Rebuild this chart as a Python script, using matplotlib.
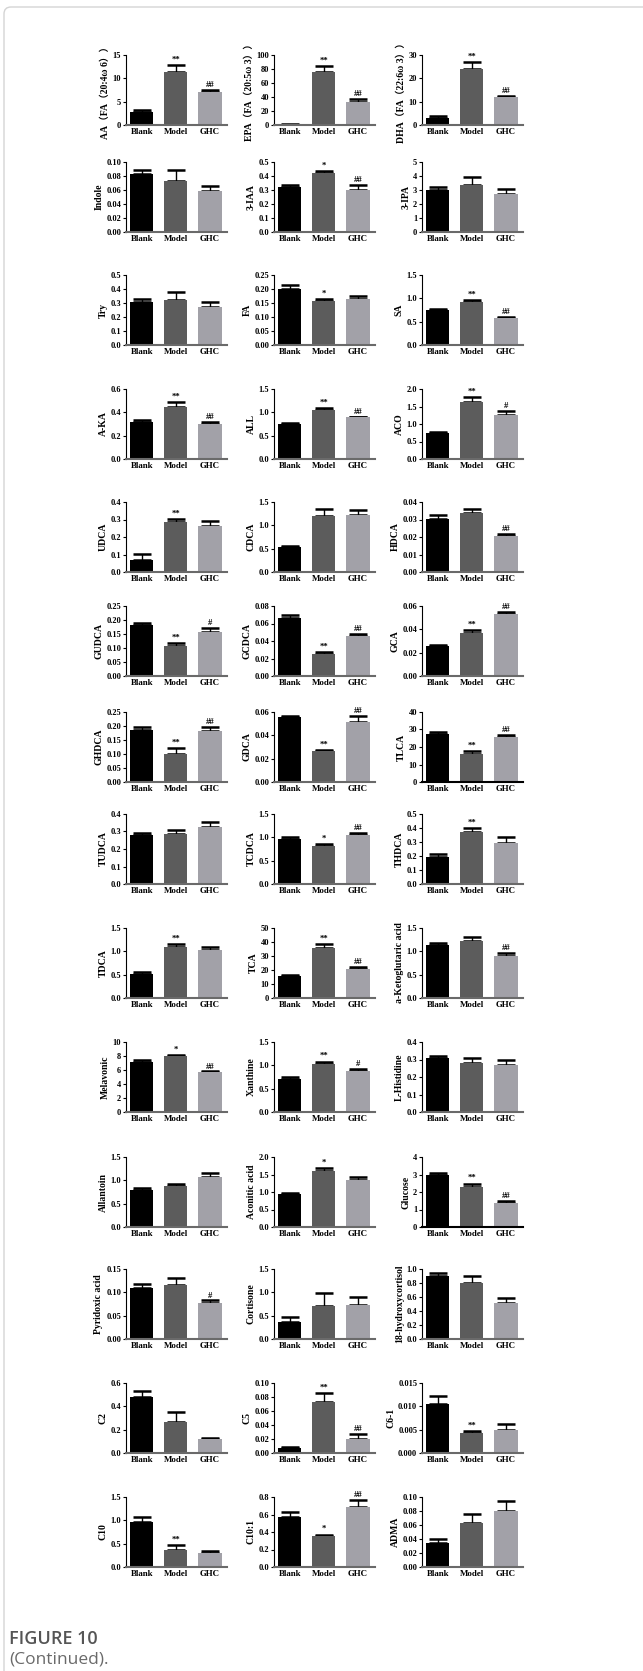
import math
import numpy as np
import matplotlib
matplotlib.use("Agg")
import matplotlib.pyplot as plt
from matplotlib.patches import FancyBboxPatch

plt.rcParams['font.family'] = ['Liberation Serif', 'Noto Sans CJK SC']
plt.rcParams['font.weight'] = 'bold'

groups = ["Blank", "Model", "GHC"]

labels = [
    "AA（FA（20:4ω 6））", "EPA（FA（20:5ω 3））", "DHA（FA（22:6ω 3））",
    "Indole", "3-IAA", "3-IPA",
    "Try", "FA", "SA",
    "A-KA", "ALL", "ACO",
    "UDCA", "CDCA", "HDCA",
    "GUDCA", "GCDCA", "GCA",
    "GHDCA", "GDCA", "TLCA",
    "TUDCA", "TCDCA", "THDCA",
    "TDCA", "TCA", "a-Ketoglutaric acid",
    "Melavonic", "Xanthine", "L-Histidine",
    "Allantoin", "Aconitic acid", "Glucose",
    "Pyridoxic acid", "Cortisone", "18-hydroxycortisol",
    "C2", "C5", "C6-1",
    "C10", "C10:1", "ADMA",
]

blank_mean = [2.8, 0.5, 3.2, 0.0835, 0.325, 3.03, 0.304, 0.2, 0.75, 0.314, 0.76, 0.74,
              0.066, 0.53, 0.0305, 0.182, 0.0662, 0.0255, 0.185, 0.0555, 27.5, 0.28, 0.97, 0.19,
              0.525, 16.0, 1.14, 7.08, 0.71, 0.309, 0.80, 0.93, 2.96, 0.1086, 0.365, 0.893,
              0.476, 0.0078, 0.01056, 0.964, 0.571, 0.0337]
model_mean = [11.4, 75.0, 23.8, 0.073, 0.418, 3.33, 0.32, 0.158, 0.93, 0.45, 1.04, 1.635,
              0.284, 1.196, 0.0335, 0.108, 0.0256, 0.037, 0.099, 0.0267, 16.0, 0.288, 0.82, 0.372,
              1.087, 35.7, 1.22, 7.94, 1.036, 0.278, 0.87, 1.594, 2.31, 0.116, 0.715, 0.796,
              0.269, 0.0725, 0.0042, 0.355, 0.351, 0.0629]
ghc_mean = [7.0, 33.5, 11.8, 0.0585, 0.30, 2.68, 0.27, 0.165, 0.58, 0.30, 0.89, 1.27,
            0.263, 1.217, 0.0204, 0.1585, 0.046, 0.053, 0.181, 0.051, 25.8, 0.323, 1.05, 0.292,
            1.02, 20.9, 0.90, 5.69, 0.877, 0.269, 1.065, 1.333, 1.35, 0.0776, 0.73, 0.515,
            0.121, 0.0206, 0.0049, 0.29, 0.687, 0.0807]

blank_err = [0.4, 0.5, 0.7, 0.0055, 0.01, 0.21, 0.024, 0.015, 0.02, 0.02, 0.02, 0.03,
             0.038, 0.03, 0.0018, 0.009, 0.0036, 0.0012, 0.0125, 0.0009, 1.15, 0.01, 0.03, 0.027,
             0.03, 0.7, 0.035, 0.29, 0.03, 0.01, 0.04, 0.046, 0.13, 0.0082, 0.102, 0.049,
             0.056, 0.001, 0.00168, 0.101, 0.054, 0.0059]
model_err = [1.5, 9.7, 3.1, 0.016, 0.019, 0.6, 0.06, 0.006, 0.04, 0.037, 0.05, 0.125,
             0.019, 0.144, 0.0025, 0.009, 0.002, 0.0025, 0.0235, 0.0006, 1.5, 0.019, 0.028, 0.028,
             0.073, 2.6, 0.09, 0.24, 0.044, 0.033, 0.06, 0.096, 0.17, 0.015, 0.27, 0.102,
             0.083, 0.0133, 0.00054, 0.116, 0.02, 0.0128]
ghc_err = [0.5, 4.3, 0.8, 0.0075, 0.037, 0.37, 0.036, 0.009, 0.02, 0.017, 0.015, 0.095,
           0.027, 0.109, 0.0016, 0.0145, 0.0017, 0.0016, 0.015, 0.0054, 0.9, 0.033, 0.044, 0.044,
           0.075, 1.6, 0.07, 0.10, 0.043, 0.027, 0.095, 0.107, 0.13, 0.0052, 0.168, 0.068,
           0.009, 0.0069, 0.00138, 0.058, 0.077, 0.0143]

y_max = [15, 100, 30, 0.10, 0.5, 5, 0.5, 0.25, 1.5, 0.6, 1.5, 2.0,
         0.4, 1.5, 0.04, 0.25, 0.08, 0.06, 0.25, 0.06, 40, 0.4, 1.5, 0.5,
         1.5, 50, 1.5, 10, 1.5, 0.4, 1.5, 2.0, 4, 0.15, 1.5, 1.0,
         0.6, 0.10, 0.015, 1.5, 0.8, 0.10]
y_step = [5, 20, 10, 0.02, 0.1, 1, 0.1, 0.05, 0.5, 0.2, 0.5, 0.5,
          0.1, 0.5, 0.01, 0.05, 0.02, 0.02, 0.05, 0.02, 10, 0.1, 0.5, 0.1,
          0.5, 10, 0.5, 2, 0.5, 0.1, 0.5, 0.5, 1, 0.05, 0.5, 0.2,
          0.2, 0.02, 0.005, 0.5, 0.2, 0.02]

# significance marks: model vs blank (*) and GHC vs model (#)
model_mark = ["**", "**", "**", "", "*", "", "", "*", "**", "**", "**", "**",
              "**", "", "", "**", "**", "**", "**", "**", "**", "", "*", "**",
              "**", "**", "", "*", "**", "", "", "*", "**", "", "", "",
              "", "**", "**", "**", "*", ""]
ghc_mark = ["##", "##", "##", "", "##", "", "", "", "##", "##", "##", "#",
            "", "", "##", "#", "##", "##", "##", "##", "##", "", "##", "",
            "", "##", "##", "##", "#", "", "", "", "##", "#", "", "",
            "", "##", "", "", "##", ""]

bar_colors = ["#000000", "#5c5c5c", "#a2a1a8"]
black_axis = {"TLCA", "Glucose"}

W, H = 643, 1671
fig = plt.figure(figsize=(W / 100, H / 100), dpi=100)

col_left = [126, 274, 422]
ax_w = 101
ax_h = 70
row_base = [125, 232, 345, 459, 572, 676, 782, 884, 998, 1112, 1227, 1339, 1453, 1567]

x = np.arange(3)
for i, name in enumerate(labels):
    r, c = divmod(i, 3)
    left = col_left[c]
    base = row_base[r]
    ax = fig.add_axes([left / W, 1 - base / H, ax_w / W, ax_h / H])
    means = [blank_mean[i], model_mean[i], ghc_mean[i]]
    errs = [blank_err[i], model_err[i], ghc_err[i]]
    ax.errorbar(x, means, yerr=[np.zeros(3), errs], fmt='none', ecolor='black',
                elinewidth=1.0, capsize=6.4, capthick=1.8, zorder=1)
    ax.bar(x, means, width=0.68, color=bar_colors, zorder=2)
    ax.set_xlim(-0.46, 2.5)
    ax.set_ylim(0, y_max[i])
    step = y_step[i]
    ticks = np.arange(0, y_max[i] + step / 2, step)
    ax.set_yticks(ticks)
    dec = max(0, -int(math.floor(math.log10(step))))
    ax.set_yticklabels([f"{t:.{dec}f}" for t in ticks])
    ax.set_xticks(x)
    ax.set_xticklabels(groups)
    ax.tick_params(axis='y', direction='out', length=2.5, width=0.8, labelsize=6.0, pad=1)
    ax.tick_params(axis='x', length=0, labelsize=6.4, pad=2)
    for lab in ax.get_xticklabels() + ax.get_yticklabels():
        lab.set_fontweight('bold')
    for s in ("top", "right"):
        ax.spines[s].set_visible(False)
    ax.spines["left"].set_linewidth(0.8)
    ax.spines["left"].set_color("black")
    ax.spines["bottom"].set_linewidth(1.5)
    ax.spines["bottom"].set_color("black" if name in black_axis else "#6a6a6a")
    ax.set_ylabel(name, fontsize=7.0, fontweight='bold', labelpad=2)
    tops = [m + e for m, e in zip(means, errs)]
    for xi, mark, dy in ((1, model_mark[i], 1.0), (2, ghc_mark[i], 0.6)):
        if mark:
            ax.annotate(mark, (xi, tops[xi]), xytext=(0, dy), textcoords='offset points',
                        ha='center', va='bottom', fontsize=6.2, fontweight='bold',
                        annotation_clip=False)

# page frame
frame = FancyBboxPatch((4 / 100, -1.0), 10.0, (H - 7) / 100 + 1.0,
                       boxstyle="round,pad=0,rounding_size=0.07",
                       transform=fig.dpi_scale_trans, fill=False,
                       edgecolor="#d4d4d4", linewidth=1.0, clip_on=False)
fig.add_artist(frame)

fig.text(9 / W, 1 - 1644 / H, "FIGURE 10", family="Open Sans", fontweight="semibold",
         fontsize=13, color="#555555", ha="left", va="baseline")
fig.text(9 / W, 1 - 1664 / H, "(Continued).", family="Open Sans", fontweight="normal",
         fontsize=12.5, color="#6a6a6a", ha="left", va="baseline")

fig.savefig("out.png", dpi=100)
